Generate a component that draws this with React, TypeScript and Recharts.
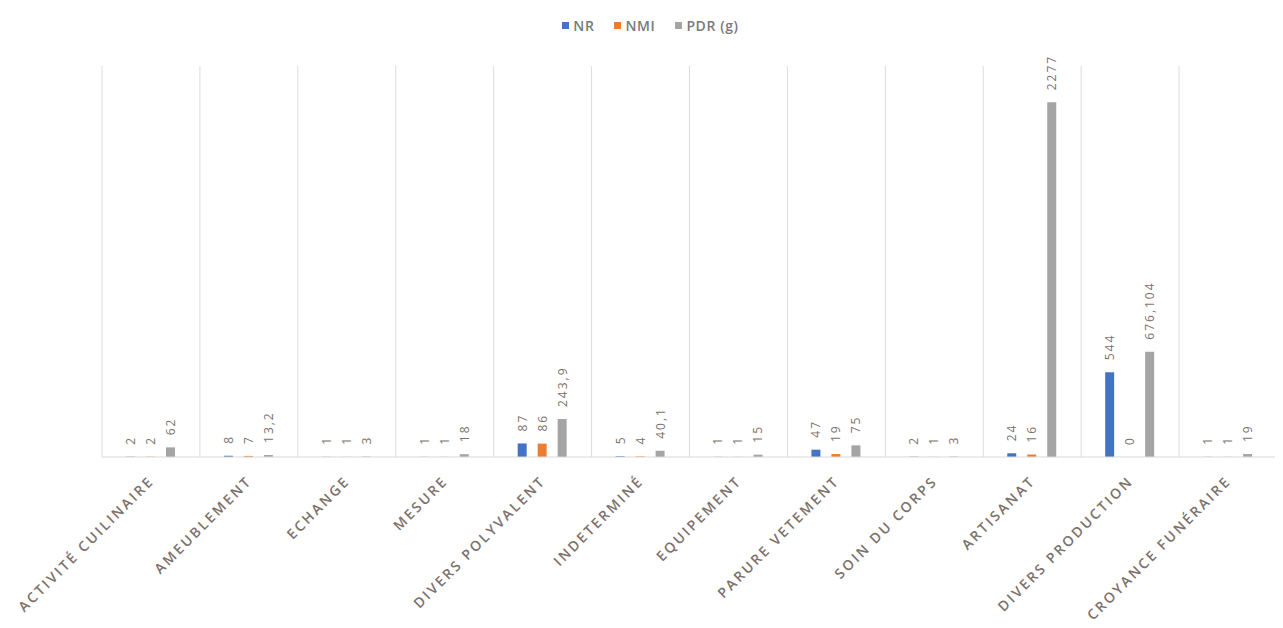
import React from "react";
import {
  BarChart,
  Bar,
  XAxis,
  YAxis,
  CartesianGrid,
  Legend,
  LabelList,
} from "recharts";

const categories = [
  "ACTIVITÉ CUILINAIRE",
  "AMEUBLEMENT",
  "ECHANGE",
  "MESURE",
  "DIVERS POLYVALENT",
  "INDETERMINÉ",
  "EQUIPEMENT",
  "PARURE VETEMENT",
  "SOIN DU CORPS",
  "ARTISANAT",
  "DIVERS PRODUCTION",
  "CROYANCE FUNÉRAIRE",
];

const nrValues = [2, 8, 1, 1, 87, 5, 1, 47, 2, 24, 544, 1];
const nmiValues = [2, 7, 1, 1, 86, 4, 1, 19, 1, 16, 0, 1];
const pdrValues = [62, 13.2, 3, 18, 243.9, 40.1, 15, 75, 3, 2277, 676.104, 19];

const data = categories.map((name, i) => ({
  name,
  NR: nrValues[i],
  NMI: nmiValues[i],
  PDR: pdrValues[i],
}));

const BLUE = "#4472C4";
const ORANGE = "#ED7D31";
const GREY = "#A5A5A5";
const TEXT = "#7d716c";
const FONT = "'Open Sans', sans-serif";

const series = [
  { key: "NR", label: "NR", color: BLUE },
  { key: "NMI", label: "NMI", color: ORANGE },
  { key: "PDR", label: "PDR (g)", color: GREY },
];

// french decimal comma, like the source sheet
const fmt = (v: number) => String(v).replace(".", ",");

// keep zero bars in the layout so their "0" label still shows
const zeroBarSize = (value: number) => (value === 0 ? 0.01 : 0);

const ValueLabel = (props: any) => {
  const { x, y, width, value } = props;
  const cx = x + width / 2;
  const cy = y - 12;
  return (
    <text
      x={cx}
      y={cy}
      transform={`rotate(-90, ${cx}, ${cy})`}
      textAnchor="start"
      dominantBaseline="central"
      fill={TEXT}
      fontSize={12}
      fontFamily={FONT}
      letterSpacing={2}
    >
      {fmt(value)}
    </text>
  );
};

const CategoryTick = ({ x, y, payload }: any) => (
  <g transform={`translate(${x + 4},${y + 17})`}>
    <text
      x={0}
      y={0}
      textAnchor="end"
      transform="rotate(-45)"
      fill={TEXT}
      fontSize={14}
      fontWeight={600}
      fontFamily={FONT}
      letterSpacing={2.4}
    >
      {payload.value}
    </text>
  </g>
);

const LegendBox = () => (
  <div
    style={{
      display: "flex",
      justifyContent: "center",
      gap: 20,
      fontFamily: FONT,
      fontSize: 14,
      fontWeight: 600,
      color: "#7a7a7a",
      letterSpacing: 0.6,
      paddingLeft: 10,
    }}
  >
    {series.map((s) => (
      <span
        key={s.key}
        style={{ display: "flex", alignItems: "center", gap: 4 }}
      >
        <span
          style={{
            width: 7,
            height: 7,
            background: s.color,
            display: "inline-block",
          }}
        />
        {s.label}
      </span>
    ))}
  </div>
);

export default function App() {
  return (
    <div style={{ fontFamily: FONT }}>
      <BarChart
        width={1275}
        height={620}
        data={data}
        margin={{ top: 58, right: 6, left: 94, bottom: 0 }}
        barSize={9}
        barGap={11}
      >
        <CartesianGrid
          horizontal={false}
          stroke="#dcdcdc"
          verticalCoordinatesGenerator={({ offset }: any) =>
            Array.from(
              { length: categories.length + 1 },
              (_, i) => offset.left + (i * offset.width) / categories.length
            )
          }
        />
        <XAxis
          dataKey="name"
          interval={0}
          height={171}
          tickLine={false}
          axisLine={{ stroke: "#d9d9d9" }}
          tick={<CategoryTick />}
        />
        <YAxis hide domain={[0, 2510]} />
        <Legend
          verticalAlign="middle"
          wrapperStyle={{ top: 8, left: 0, width: 1275 }}
          content={<LegendBox />}
        />
        {series.map((s) => (
          <Bar
            key={s.key}
            dataKey={s.key}
            name={s.label}
            fill={s.color}
            minPointSize={zeroBarSize}
            isAnimationActive={false}
          >
            <LabelList dataKey={s.key} content={<ValueLabel />} />
          </Bar>
        ))}
      </BarChart>
    </div>
  );
}
